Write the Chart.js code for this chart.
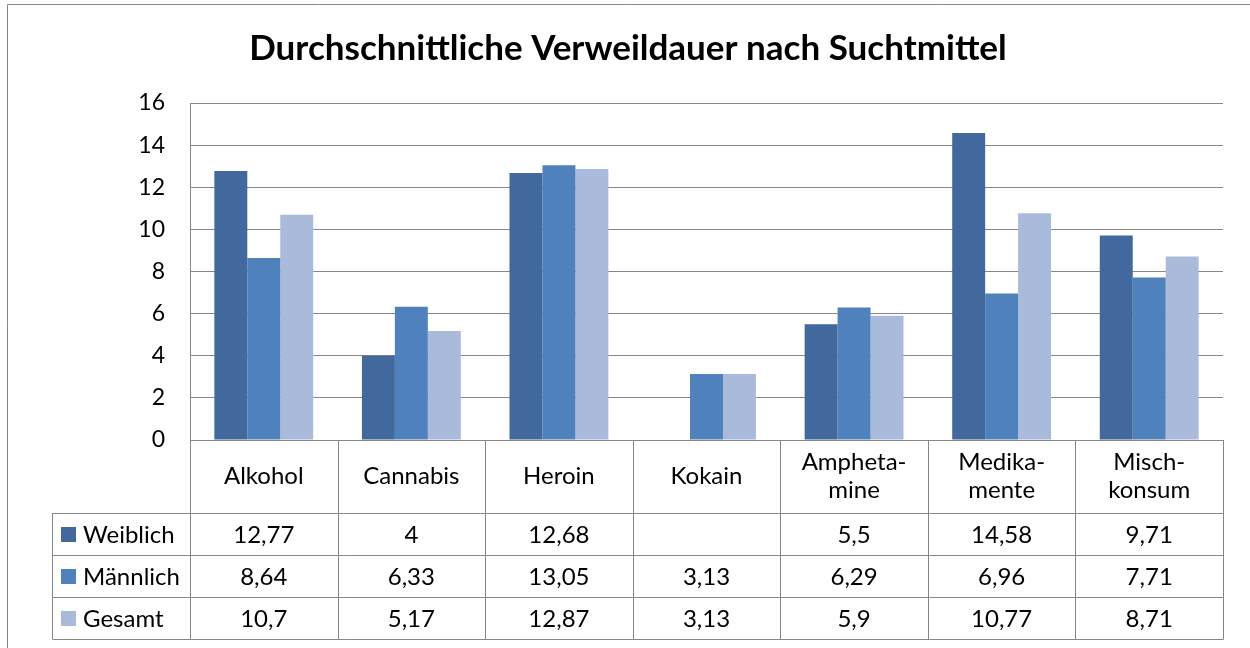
<!DOCTYPE html>
<html>
<head>
<meta charset="utf-8">
<script src="https://cdn.jsdelivr.net/npm/chart.js@4.4.1/dist/chart.umd.min.js"></script>
<style>
  body { margin: 0; background: #fff; }
</style>
</head>
<body>
<canvas id="myChart" width="1250" height="648"></canvas>
<script>
// Daten aus dem Diagramm
const chartTitle = "Durchschnittliche Verweildauer nach Suchtmittel";
const categories = [["Alkohol"], ["Cannabis"], ["Heroin"], ["Kokain"], ["Ampheta-", "mine"], ["Medika-", "mente"], ["Misch-", "konsum"]];
const weiblich = [12.77, 4, 12.68, null, 5.5, 14.58, 9.71];
const maennlich = [8.64, 6.33, 13.05, 3.13, 6.29, 6.96, 7.71];
const gesamt = [10.7, 5.17, 12.87, 3.13, 5.9, 10.77, 8.71];
const seriesNames = ["Weiblich", "Männlich", "Gesamt"];
const seriesColors = ["#41699d", "#4f81bd", "#aabadb"];
const yMin = 0;
const yMax = 16;
const yStep = 2;

const FONT = "Lato";
const lineColor = "#878787";

function fmt(v) {
    if (v === null || v === undefined) return "";
    return String(v).replace(".", ",");
}

// Rahmen, Hintergrund und Titel
const frame = {
    id: "frame",
    beforeDraw(chart) {
        const ctx = chart.ctx;
        ctx.save();
        ctx.fillStyle = "#fff";
        ctx.fillRect(0, 0, chart.width, chart.height);
        ctx.strokeStyle = lineColor;
        ctx.lineWidth = 1;
        ctx.beginPath();
        ctx.moveTo(7.5, chart.height + 2);
        ctx.lineTo(7.5, 4.5);
        ctx.lineTo(chart.width + 2, 4.5);
        ctx.stroke();

        ctx.fillStyle = "#000";
        ctx.font = "bold 35px " + FONT;
        ctx.textAlign = "center";
        ctx.textBaseline = "middle";
        ctx.fillText(chartTitle, 628, 49);
        ctx.restore();
    }
};

// Datentabelle unter dem Diagramm (wie in Excel)
const dataTable = {
    id: "dataTable",
    afterDraw(chart) {
        const ctx = chart.ctx;
        const area = chart.chartArea;
        const x = chart.scales.x;
        const n = categories.length;
        const w = (area.right - area.left) / n;
        const headTop = Math.round(area.bottom);
        const headBottom = headTop + 73;
        const rowH = 42;
        const legendLeft = 52;
        const rows = [weiblich, maennlich, gesamt];
        const tableBottom = headBottom + rowH * rows.length;
        const R = Math.round(area.right);

        ctx.save();
        ctx.strokeStyle = lineColor;
        ctx.lineWidth = 1;
        ctx.beginPath();
        // waagerechte Linien
        for (let r = 0; r <= rows.length; r++) {
            const y = headBottom + r * rowH + 0.5;
            ctx.moveTo(legendLeft + 0.5, y);
            ctx.lineTo(R + 0.5, y);
        }
        // senkrechte Linien
        for (let i = 0; i <= n; i++) {
            const xx = Math.round(area.left + i * w) + 0.5;
            ctx.moveTo(xx, headTop);
            ctx.lineTo(xx, tableBottom + 0.5);
        }
        ctx.moveTo(legendLeft + 0.5, headBottom);
        ctx.lineTo(legendLeft + 0.5, tableBottom + 0.5);
        ctx.stroke();

        ctx.fillStyle = "#000";
        ctx.font = "24px " + FONT;
        ctx.textAlign = "center";
        ctx.textBaseline = "middle";

        // Kopfzeile
        for (let i = 0; i < n; i++) {
            const cx = x.getPixelForValue(i);
            const lines = categories[i];
            const mid = (headTop + headBottom) / 2;
            const lh = 28;
            lines.forEach((t, k) => {
                ctx.fillText(t, cx, mid + (k - (lines.length - 1) / 2) * lh);
            });
        }

        // Werte
        rows.forEach((vals, r) => {
            const cy = headBottom + r * rowH + rowH / 2 + 1;
            for (let i = 0; i < n; i++) {
                ctx.fillText(fmt(vals[i]), x.getPixelForValue(i), cy);
            }
            // Legendenfeld
            ctx.fillStyle = seriesColors[r];
            ctx.fillRect(legendLeft + 9, cy - 8, 15, 15);
            ctx.fillStyle = "#000";
            ctx.textAlign = "left";
            ctx.fillText(seriesNames[r], legendLeft + 31, cy);
            ctx.textAlign = "center";
        });
        ctx.restore();
    }
};

const ctx = document.getElementById("myChart").getContext("2d");
const myChart = new Chart(ctx, {
    type: "bar",
    data: {
        labels: categories.map(c => c.join("")),
        datasets: [
            { label: seriesNames[0], data: weiblich, backgroundColor: seriesColors[0] },
            { label: seriesNames[1], data: maennlich, backgroundColor: seriesColors[1] },
            { label: seriesNames[2], data: gesamt, backgroundColor: seriesColors[2] },
        ],
    },
    options: {
        responsive: false,
        animation: false,
        datasets: {
            bar: { barPercentage: 1, categoryPercentage: 0.67 }
        },
        layout: {
            padding: { left: 0, right: 27, top: 103, bottom: 208 }
        },
        plugins: {
            legend: { display: false },
            tooltip: { enabled: false },
            title: { display: false },
        },
        scales: {
            x: {
                display: false,
                grid: { display: false },
            },
            y: {
                min: yMin,
                max: yMax,
                afterFit(scale) { scale.width = 190; },
                ticks: {
                    stepSize: yStep,
                    color: "#000",
                    padding: 25,
                    font: { family: FONT, size: 23 },
                },
                grid: { color: lineColor, drawTicks: false },
                border: { display: true, color: lineColor },
            },
        },
    },
    plugins: [frame, dataTable],
});
</script>
</body>
</html>
